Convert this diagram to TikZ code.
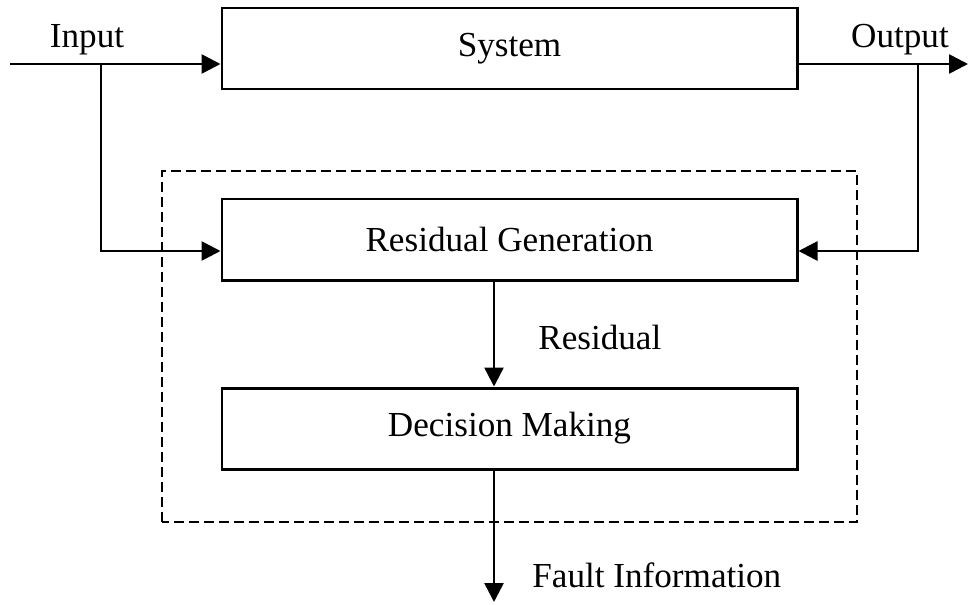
\documentclass[tikz,border=0pt]{standalone}
\usepackage{fontspec}
\setmainfont{Liberation Serif}
\usepackage{tikz}
\usetikzlibrary{arrows.meta, positioning, calc}
\tikzset{
    box/.style={rectangle, draw=black, line width=1.7pt, minimum width=11.5cm, minimum height=1.62cm, inner sep=0pt, align=center},
    arrow/.style={-{Triangle[length=0.38cm, width=0.38cm]}, line width=1.5pt, draw=black},
    dashedline/.style={dash pattern=on 0.2cm off 0.1cm, line width=1.2pt, draw=black},
    lbl/.style={inner sep=0pt}
}

\begin{document}
\begin{tikzpicture}[font=\fontsize{20}{24}\selectfont]
    \useasboundingbox (0,0) rectangle (19.38,12.08);
    % blocks
    \node[box] (sys) at (10.19,11.11) {System};
    \node[box] (resgen) at (10.19,7.29) {Residual Generation};
    \node[box] (decide) at (10.19,3.51) {Decision Making};
    \draw[dashedline] (3.24,1.64) rectangle (17.14,8.66);
    % signal points
    \coordinate (in) at (0.2,10.80);
    \coordinate (inbranch) at (2.02,10.80);
    \coordinate (rgin) at (2.02,7.06);
    \coordinate (outbranch) at (18.36,10.80);
    \coordinate (out) at (19.36,10.80);
    \coordinate (fault) at (9.88,0.04);
    % connectors
    \draw[arrow] (in) -- (sys.west |- in);
    \draw[arrow] (inbranch) -- (rgin) -- (resgen.west |- rgin);
    \draw[arrow] (sys.east |- out) -- (out);
    \draw[arrow] (outbranch) |- (resgen.east |- rgin);
    \draw[arrow] (resgen.south -| fault) -- (decide.north -| fault);
    \draw[arrow] (decide.south -| fault) -- (fault);
    % labels
    \node[lbl] (inlbl) at (1.74,11.28) {Input};
    \node[lbl] (outlbl) at (18.0,11.28) {Output};
    \node[lbl, anchor=west] (reslbl) at (10.76,5.34) {Residual};
    \node[lbl, anchor=west] (faultlbl) at (10.64,0.58) {Fault Information};
\end{tikzpicture}
\end{document}
